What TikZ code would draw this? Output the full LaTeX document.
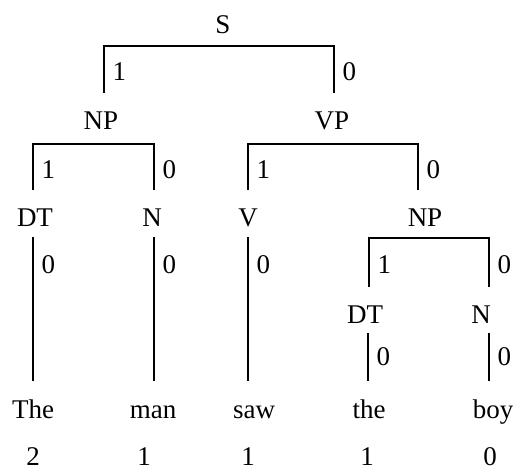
\documentclass[tikz,border=0pt]{standalone}
\usepackage{fontspec}
\setmainfont{Liberation Serif}
\begin{document}
\begin{tikzpicture}[x=1pt,y=-1pt,
  cat/.style={anchor=base,inner sep=0pt,font=\fontsize{27}{30}\selectfont},
  lab/.style={anchor=base west,inner sep=0pt,font=\fontsize{27}{30}\selectfont},
  edge/.style={line width=2pt,line join=miter}]
\useasboundingbox (0,0) rectangle (513,468);
% categories
\node[cat] (S) at (223,34) {S};
\node[cat] (NP) at (101,129) {NP};
\node[cat] (VP) at (332,129) {VP};
\node[cat] (DT) at (35,226) {DT};
\node[cat] (N) at (152,226) {N};
\node[cat] (V) at (248,226) {V};
\node[cat] (NPb) at (425,226) {NP};
\node[cat] (DTb) at (365,323) {DT};
\node[cat] (Nb) at (481,323) {N};
% words
\node[cat] (w1) at (33,418) {The};
\node[cat] (w2) at (153,418) {man};
\node[cat] (w3) at (254,418) {saw};
\node[cat] (w4) at (369,418) {the};
\node[cat] (w5) at (493,418) {boy};
% counts
\node[cat] (c1) at (33,465) {2};
\node[cat] (c2) at (144,465) {1};
\node[cat] (c3) at (248,465) {1};
\node[cat] (c4) at (367,465) {1};
\node[cat] (c5) at (490,465) {0};
% S bracket
\coordinate (s1) at (104,93); \coordinate (s2) at (334,93);
\draw[edge] (s1) |- (S.south |- 0,46) -| (s2);
\node[lab] (ls1) at (112.5,81) {1};
\node[lab] (ls2) at (342.5,81) {0};
% NP bracket
\coordinate (n1) at (33,190); \coordinate (n2) at (154,190);
\draw[edge] (n1) |- (NP.south |- 0,144) -| (n2);
\node[lab] (ln1) at (41.5,178) {1};
\node[lab] (ln2) at (162.5,178) {0};
% VP bracket
\coordinate (v1) at (248,190); \coordinate (v2) at (418,190);
\draw[edge] (v1) |- (VP.south |- 0,144) -| (v2);
\node[lab] (lv1) at (256.5,178) {1};
\node[lab] (lv2) at (426.5,178) {0};
% unary lines
\coordinate (d1) at (33,237); \coordinate (d2) at (33,381);
\draw[edge] (d1) -- (d2);
\node[lab] (ld) at (41.5,273) {0};
\coordinate (m1) at (154,237); \coordinate (m2) at (154,381);
\draw[edge] (m1) -- (m2);
\node[lab] (lm) at (162.5,273) {0};
\coordinate (a1) at (248,237); \coordinate (a2) at (248,381);
\draw[edge] (a1) -- (a2);
\node[lab] (la) at (256.5,273) {0};
% lower NP bracket
\coordinate (p1) at (369,287); \coordinate (p2) at (489,287);
\draw[edge] (p1) |- (NPb.south |- 0,238) -| (p2);
\node[lab] (lp1) at (377.5,273) {1};
\node[lab] (lp2) at (497.5,273) {0};
% lower unary lines
\coordinate (e1) at (368,333); \coordinate (e2) at (368,381);
\draw[edge] (e1) -- (e2);
\node[lab] (le) at (376.5,365) {0};
\coordinate (f1) at (489,333); \coordinate (f2) at (489,381);
\draw[edge] (f1) -- (f2);
\node[lab] (lf) at (497.5,365) {0};
\end{tikzpicture}
\end{document}
